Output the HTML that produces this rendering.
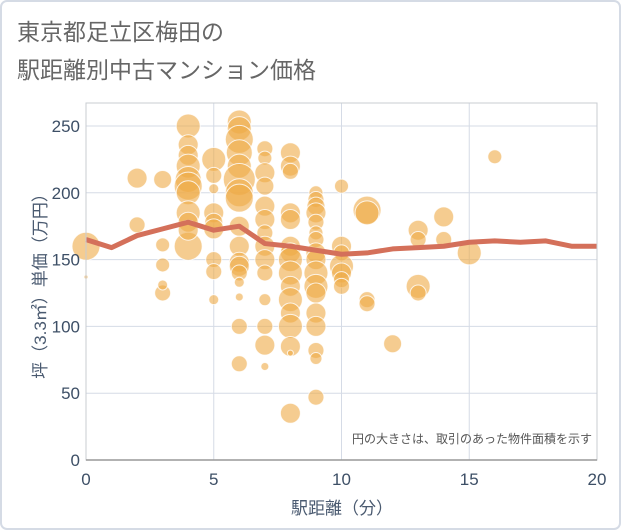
<!DOCTYPE html>
<html><head><meta charset="utf-8"><style>
body{margin:0;background:#fff;}
svg{display:block;font-family:"Liberation Sans","Noto Sans CJK JP",sans-serif;}
</style></head><body>
<svg id="chart" width="621" height="530" viewBox="0 0 621 530">
<rect x="1" y="1" width="619" height="528" rx="6" fill="#fff" stroke="#d5dbe5" stroke-width="2"/>
<text x="17" y="40" font-size="23" fill="#666">東京都足立区梅田の</text>
<text x="17" y="78" font-size="23" fill="#666">駅距離別中古マンション価格</text>
<g id="grid"></g>
<g id="bubbles"></g>
<g id="line"></g>
<rect x="86" y="103" width="511" height="357" fill="none" stroke="#c8ccd2"/>
<line x1="86" y1="460" x2="597" y2="460" stroke="#999" stroke-width="1.5"/>
<g id="ticks"></g>
<text x="592" y="443" font-size="12" fill="#555" text-anchor="end">円の大きさは、取引のあった物件面積を示す</text>
<text x="342" y="514" font-size="17" fill="#4a5a70" text-anchor="middle">駅距離（分）</text>
<text transform="translate(46,282) rotate(-90)" font-size="17" fill="#4a5a70" text-anchor="middle">坪（3.3㎡）単価（万円）</text>
</svg>
<script>
const xTicks=[0,5,10,15,20];
const yTicks=[0,50,100,150,200,250];
const bubbleX=[0,0,2,2,3,3,3,3,3,4,4,4,4,4,4,4,4,4,4,4,5,5,5,5,5,5,5,5,5,6,6,6,6,6,6,6,6,6,6,6,6,6,6,6,6,6,7,7,7,7,7,7,7,7,7,7,7,7,7,7,8,8,8,8,8,8,8,8,8,8,8,8,8,8,8,8,9,9,9,9,9,9,9,9,9,9,9,9,9,9,9,9,9,10,10,10,10,10,10,10,11,11,11,11,12,13,13,13,13,14,14,15,16];
const bubbleY=[160,137,211,176,210,161,146,125,131,250,236,228,220,210,205,200,185,178,160,172,225,213,203,185,178,173,150,141,120,253,248,240,230,220,210,200,196,175,160,148,145,140,133,122,100,72,233,226,215,205,190,180,170,160,150,140,120,100,86,70,230,220,216,185,180,160,155,150,140,130,120,110,100,85,80,35,200,195,190,185,178,170,165,155,150,140,130,125,110,100,82,76,47,205,160,155,145,140,135,130,187,185,120,117,87,172,165,130,125,182,165,155,227];
const bubbleR=[14,2,10,8,9,7,7,8,5,12,10,10,12,13,14,12,12,10,14,10,12,8,5,10,9,10,8,8,5,12,12,14,13,12,16,14,14,10,10,10,10,8,5,4,8,8,8,7,10,9,10,10,8,10,10,8,6,8,10,4,10,10,8,10,10,10,10,12,12,10,12,10,12,10,3,10,7,8,9,10,8,7,8,10,10,12,12,10,10,10,8,6,8,7,10,8,12,10,8,8,14,12,8,8,9,10,8,12,8,10,8,12,7];
const lineX=[0,1,2,3,4,5,6,7,8,9,10,11,12,13,14,15,16,17,18,19,20];
const lineY=[165,159,168,173,178,172,175,162,160,157,154,155,158,159,160,163,164,163,164,160,160];
const NS='http://www.w3.org/2000/svg';
const sx=v=>86+v*(511/20);
const sy=v=>460-v*(334/250);
function mk(tag,attrs,parent){const e=document.createElementNS(NS,tag);for(const k in attrs)e.setAttribute(k,attrs[k]);parent.appendChild(e);return e;}
const grid=document.getElementById('grid'),ticks=document.getElementById('ticks');
xTicks.forEach(t=>{
 const l=mk('line',{x1:sx(t),x2:sx(t),y1:103,y2:460,stroke:'#d5dbe6'},grid);
 
 
 const tx=mk('text',{x:sx(t),y:485,'font-size':17,fill:'#3d4f66','text-anchor':'middle'},ticks);
 tx.textContent=t;
 
 
});
yTicks.forEach(t=>{
 const l=mk('line',{x1:86,x2:597,y1:sy(t),y2:sy(t),stroke:'#d5dbe6'},grid);
 
 
 const tx=mk('text',{x:80,y:sy(t)+6,'font-size':17,fill:'#3d4f66','text-anchor':'end'},ticks);
 tx.textContent=t;
 
 
});
const bg=document.getElementById('bubbles');
bubbleX.forEach((x,i)=>{
 const c=mk('circle',{cx:sx(x),cy:sy(bubbleY[i]),r:bubbleR[i],fill:'rgba(238,170,70,0.6)',stroke:'rgba(255,255,255,0.8)','stroke-width':1},bg);
 
 
});
const lg=document.getElementById('line');
const p=mk('polyline',{points:lineX.map((x,i)=>sx(x)+','+sy(lineY[i])).join(' '),fill:'none',stroke:'#d4705a','stroke-width':5,'stroke-linejoin':'round'},lg);


</script>
</body></html>
